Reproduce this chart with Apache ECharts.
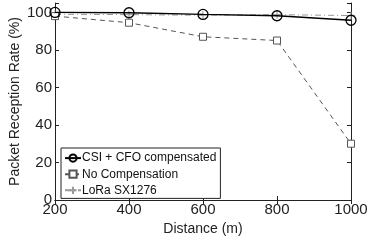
<!DOCTYPE html>
<html>
<head>
<meta charset="utf-8">
<script src="https://cdn.jsdelivr.net/npm/echarts@6/dist/echarts.min.js"></script>
<style>
  html, body { margin: 0; padding: 0; background: #fff; }
  #chart { width: 370px; height: 252px; }
</style>
</head>
<body>
<div id="chart"></div>
<script>
// distance (m)
var distances = [200, 400, 600, 800, 1000];
var csiCfo = [100, 99.8, 98.9, 98.2, 95.8];
var noComp = [98, 94.5, 87, 85, 30];
var lora = [99, 98.8, 98.5, 98.8, 98.3];
var yTicks = [0, 20, 40, 60, 80, 100];

var chart = echarts.init(document.getElementById('chart'));

function pairs(vals) {
  return distances.map(function (d, i) { return [d, vals[i]]; });
}

var font = 'Liberation Sans, Arial, sans-serif';
var plus = 'path://M0,5L10,5M5,0L5,10';

var option = {
  animation: false,
  backgroundColor: '#fff',
  grid: { left: 55, right: 19, top: 3, bottom: 52, containLabel: false, outerBoundsMode: 'none' },
  legend: {
    left: 61,
    top: 148,
    orient: 'vertical',
    itemWidth: 16,
    itemHeight: 9,
    itemGap: 4,
    padding: [4, 4, 2, 3],
    backgroundColor: '#fff',
    borderColor: '#222',
    borderWidth: 1,
    borderRadius: 0,
    textStyle: { fontFamily: font, fontSize: 12, color: '#111', padding: [0, 0, 0, -4] },
    data: ['CSI + CFO compensated', 'No Compensation', 'LoRa SX1276']
  },
  xAxis: [{
    type: 'value',
    min: 200, max: 1000, interval: 200,
    name: 'Distance (m)',
    nameLocation: 'middle',
    nameGap: 21,
    nameTextStyle: { fontFamily: font, fontSize: 14, color: '#222' },
    axisLine: { show: true, lineStyle: { color: '#222', width: 1 } },
    axisTick: { inside: true, length: 4, lineStyle: { color: '#222' } },
    axisLabel: {
      fontFamily: font, fontSize: 15, color: '#222', margin: 2,
      formatter: function (v) { return String(v); }
    },
    splitLine: { show: false }
  }, {
    type: 'value',
    position: 'top',
    min: 200, max: 1000, interval: 200,
    axisLine: { show: true, lineStyle: { color: '#222', width: 1 } },
    axisTick: { inside: true, length: 4, lineStyle: { color: '#222' } },
    axisLabel: { show: false },
    splitLine: { show: false }
  }],
  yAxis: [{
    type: 'value',
    min: 0, max: 105, interval: 20,
    name: 'Packet Reception Rate (%)',
    nameLocation: 'middle',
    nameGap: 33,
    nameMoveOverlap: false,
    nameTextStyle: { fontFamily: font, fontSize: 14, color: '#222' },
    axisLine: { show: true, lineStyle: { color: '#222', width: 1 } },
    axisTick: { inside: true, length: 4, lineStyle: { color: '#222' } },
    axisLabel: {
      fontFamily: font, fontSize: 15, color: '#222', margin: 3,
      formatter: function (v) { return yTicks.indexOf(v) >= 0 ? String(v) : ''; }
    },
    splitLine: { show: false }
  }, {
    type: 'value',
    position: 'right',
    min: 0, max: 105, interval: 20,
    axisLine: { show: true, lineStyle: { color: '#222', width: 1 } },
    axisTick: { inside: true, length: 4, lineStyle: { color: '#222' } },
    axisLabel: { show: false },
    splitLine: { show: false }
  }],
  series: [{
    name: 'LoRa SX1276',
    type: 'line',
    data: pairs(lora),
    symbol: plus,
    symbolSize: 8,
    lineStyle: { color: '#999', width: 1, type: [6, 3, 1, 3] },
    itemStyle: { color: 'none', borderColor: '#999', borderWidth: 1 },
    z: 2
  }, {
    name: 'No Compensation',
    type: 'line',
    data: pairs(noComp),
    symbol: 'rect',
    symbolSize: 7,
    lineStyle: { color: '#555', width: 1, type: [5, 4] },
    itemStyle: { color: '#fff', borderColor: '#555', borderWidth: 1 },
    z: 3
  }, {
    name: 'CSI + CFO compensated',
    type: 'line',
    data: pairs(csiCfo),
    symbol: 'circle',
    symbolSize: 10,
    lineStyle: { color: '#000', width: 1.3 },
    itemStyle: { color: 'none', borderColor: '#000', borderWidth: 1.3 },
    z: 4
  }]
};

chart.setOption(option);
</script>
</body>
</html>
